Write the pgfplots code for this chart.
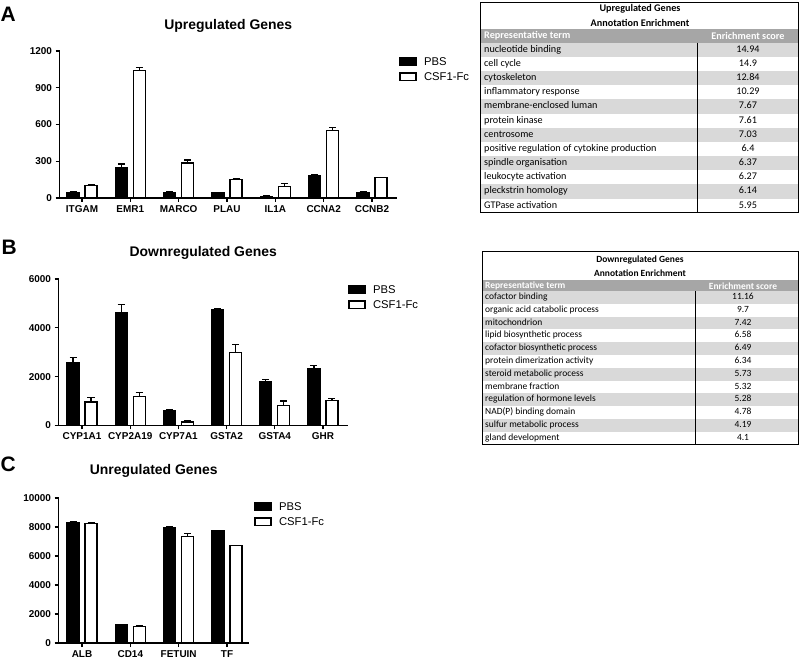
\documentclass[border=0pt]{standalone}
\usepackage{pgfplots}
\usepackage{pgfplotstable}
\pgfplotsset{compat=1.18}
\usepackage{fontspec}
\setmainfont{Liberation Sans}
\newfontfamily\calibri{Carlito}
\definecolor{rowgray}{HTML}{D9D9D9}
\definecolor{headgray}{HTML}{A6A6A6}

\pgfplotstableread{
x pbs pbse csf csfe
0 45 5 100 6
1 252 25 1040 25
2 45 4 285 25
3 42 4 148 7
4 13 3 97 20
5 183 6 550 28
6 45 4 165 5
}\dataA
\pgfplotstableread{
x pbs pbse csf csfe
0 2560 210 960 200
1 4620 330 1190 150
2 615 55 140 45
3 4750 40 3000 320
4 1780 90 810 190
5 2320 150 1030 70
}\dataB
\pgfplotstableread{
x pbs pbse csf csfe
0 8300 50 8230 40
1 1265 30 1150 40
2 7940 60 7340 220
3 7740 40 6710 30
}\dataC

\pgfplotsset{
  gp/.style={
    scale only axis, anchor=south west,
    axis x line=bottom, axis y line=left,
    axis line style={-, line width=1.2bp, black},
    tick align=outside, major tick length=4bp,
    tick style={line width=1.2bp, black},
    ticklabel style={font=\bfseries\fontsize{10}{12}\selectfont},
    /pgf/number format/assume math mode=true,
    /pgf/number format/1000 sep={},
    scaled y ticks=false,
    ymin=0,
    title style={at={(0.5,1)}, anchor=base, font=\bfseries\fontsize{14}{16}\selectfont},
    legend image code/.code={\draw[##1, line width=1.3bp] (0bp,-3.8bp) rectangle (16bp,3.8bp);},
    legend style={draw=none, fill=none, inner sep=0pt, at={(1,1)}, anchor=north west,
      font=\fontsize{11.3}{13}\selectfont, row sep=6bp,
      nodes={inner sep=0.5bp, text height=8.1bp, text depth=0bp},
      /tikz/every odd column/.append style={column sep=7bp}},
    legend cell align=left,
  },
  bars/.style={ybar, bar width=12bp, bar shift=0pt, draw=black, line width=1.2bp,
    error bars/.cd, y dir=plus, y explicit,
    error bar style={line width=1.2bp, black, solid},
    error mark options={rotate=90, mark size=3.5bp, line width=1.2bp, black}},
  pbs/.style={fill=black, bars},
  csf/.style={fill=white, bars},
}

\begin{document}
\begin{tikzpicture}
\useasboundingbox[fill=white] (0,0) rectangle (799bp,659bp);

% ---------- A ----------
\begin{axis}[gp, at={(59.5bp,461bp)}, width=337.5bp, height=147bp,
  ymax=1200, ytick={0,300,600,900,1200},
  xmin=-0.4655, xmax=6.517, xtick={0,...,6},
  xticklabels={ITGAM,EMR1,MARCO,PLAU,IL1A,CCNA2,CCNB2},
  title={Upregulated Genes}, title style={yshift=16bp},
  legend style={xshift=2bp, yshift=-6bp}]
\addplot[pbs] table[x expr=\thisrow{x}-0.1862, y=pbs, y error=pbse] {\dataA};
\addlegendentry{PBS}
\addplot[csf] table[x expr=\thisrow{x}+0.1862, y=csf, y error=csfe] {\dataA};
\addlegendentry{CSF1-Fc}
\end{axis}

% ---------- B ----------
\begin{axis}[gp, at={(58.5bp,233.5bp)}, width=289.5bp, height=146.5bp,
  ymax=6000, ytick={0,2000,4000,6000},
  xmin=-0.4876, xmax=5.519, xtick={0,...,5},
  xticklabels={CYP1A1,CYP2A19,CYP7A1,GSTA2,GSTA4,GHR},
  title={Downregulated Genes}, title style={yshift=17bp},
  legend style={xshift=0bp, yshift=-6bp}]
\addplot[pbs] table[x expr=\thisrow{x}-0.1867, y=pbs, y error=pbse] {\dataB};
\addlegendentry{PBS}
\addplot[csf] table[x expr=\thisrow{x}+0.1867, y=csf, y error=csfe] {\dataB};
\addlegendentry{CSF1-Fc}
\end{axis}

% ---------- C ----------
\begin{axis}[gp, at={(58.5bp,16bp)}, width=190.5bp, height=145bp,
  ymax=10000, ytick={0,2000,4000,6000,8000,10000},
  xmin=-0.4866, xmax=3.455, xtick={0,...,3},
  xticklabels={ALB,CD14,FETUIN,TF},
  title={Unregulated Genes}, title style={yshift=18bp},
  legend style={xshift=5bp, yshift=-4bp}]
\addplot[pbs] table[x expr=\thisrow{x}-0.1863, y=pbs, y error=pbse] {\dataC};
\addlegendentry{PBS}
\addplot[csf] table[x expr=\thisrow{x}+0.1863, y=csf, y error=csfe] {\dataC};
\addlegendentry{CSF1-Fc}
\end{axis}

\begin{scope}[shift={(0,659bp)}, x=1bp, y=-1bp]
% panel letters
\node[anchor=base west, inner sep=0pt, font=\bfseries\fontsize{21}{24}\selectfont] at (0.5,21.7) {A};
\node[anchor=base west, inner sep=0pt, font=\bfseries\fontsize{21}{24}\selectfont] at (1.5,255) {B};
\node[anchor=base west, inner sep=0pt, font=\bfseries\fontsize{21}{24}\selectfont] at (0.5,472) {C};

% ---------- Table A ----------
\foreach \i in {0,2,...,10} {
  \fill[rowgray] (480,{42.7+14.17*\i}) rectangle (798,{42.7+14.17*(\i+1)});
}
\fill[headgray] (480,29.3) rectangle (798,42.7);
\draw[line width=0.9bp] (697,42.7) -- (697,212.7);
\draw[line width=0.9bp] (480,2) rectangle (798,212.7);
\begin{scope}[every node/.style={font=\calibri\fontsize{10.2}{12}\selectfont, inner sep=0pt}]
\node[font=\calibri\bfseries\fontsize{10.2}{12}\selectfont] at (640,8.8) {Upregulated Genes};
\node[font=\calibri\bfseries\fontsize{10.2}{12}\selectfont] at (640,23) {Annotation Enrichment};
\node[anchor=west, text=white, font=\calibri\bfseries\fontsize{10.2}{12}\selectfont] at (484,36.2) {Representative term};
\node[text=white, font=\calibri\bfseries\fontsize{10.2}{12}\selectfont] at (748,36.2) {Enrichment score};
\foreach \t/\v [count=\i from 0] in {nucleotide binding/14.94, cell cycle/14.9, cytoskeleton/12.84, inflammatory response/10.29, membrane-enclosed luman/7.67, protein kinase/7.61, centrosome/7.03, positive regulation of cytokine production/6.4, spindle organisation/6.37, leukocyte activation/6.27, pleckstrin homology/6.14, GTPase activation/5.95} {
  \pgfmathsetmacro\yc{42.7+14.17*(\i+0.5)}
  \node[anchor=west] at (484,\yc) {\strut\t};
  \node at (748,\yc) {\strut\v};
}
\end{scope}

% ---------- Table B ----------
\foreach \i in {0,2,...,10} {
  \fill[rowgray] (482,{291+12.8*\i}) rectangle (798,{291+12.8*(\i+1)});
}
\fill[headgray] (482,280.5) rectangle (798,291);
\draw[line width=0.9bp] (695,291) -- (695,444.6);
\draw[line width=0.9bp] (482,251.5) rectangle (798,444.6);
\begin{scope}[every node/.style={font=\calibri\fontsize{9.5}{11}\selectfont, inner sep=0pt}]
\node[font=\calibri\bfseries\fontsize{9.5}{11}\selectfont] at (640,260) {Downregulated Genes};
\node[font=\calibri\bfseries\fontsize{9.5}{11}\selectfont] at (640,273.5) {Annotation Enrichment};
\node[anchor=west, text=white, font=\calibri\bfseries\fontsize{9.5}{11}\selectfont] at (485,285.8) {Representative term};
\node[text=white, font=\calibri\bfseries\fontsize{9.5}{11}\selectfont] at (743,285.8) {Enrichment score};
\foreach \t/\v [count=\i from 0] in {cofactor binding/11.16, organic acid catabolic process/9.7, mitochondrion/7.42, lipid biosynthetic process/6.58, cofactor biosynthetic process/6.49, protein dimerization activity/6.34, steroid metabolic process/5.73, membrane fraction/5.32, regulation of hormone levels/5.28, NAD(P) binding domain/4.78, sulfur metabolic process/4.19, gland development/4.1} {
  \pgfmathsetmacro\yc{291+12.8*(\i+0.5)}
  \node[anchor=west] at (485,\yc) {\strut\t};
  \node at (743,\yc) {\strut\v};
}
\end{scope}
\end{scope}
\end{tikzpicture}
\end{document}
